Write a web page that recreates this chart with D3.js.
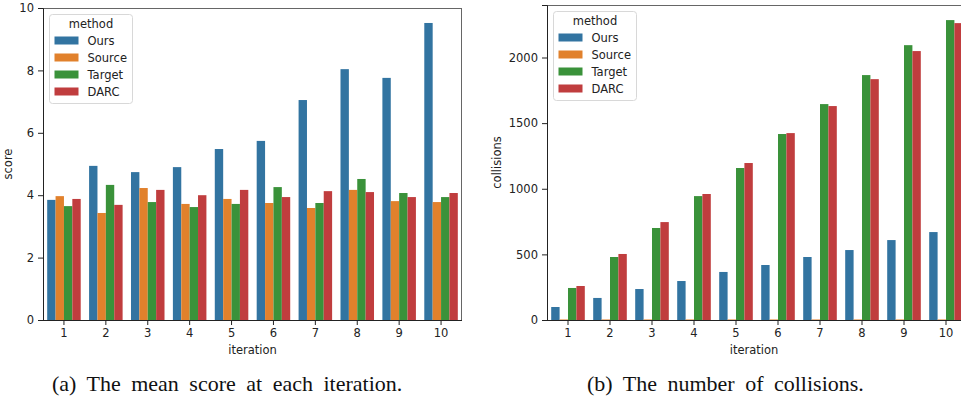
<!DOCTYPE html>
<html>
<head>
<meta charset="utf-8">
<script src="https://cdn.jsdelivr.net/npm/d3@7"></script>
<style>
  body { margin: 0; background: #fff; }
  text { font-family: "DejaVu Sans", sans-serif; }
</style>
</head>
<body>
<div id="chart"></div>
<script>
// data
var iterations = ["1", "2", "3", "4", "5", "6", "7", "8", "9", "10"];
var methods = ["Ours", "Source", "Target", "DARC"];
var colors = ["#3274a1", "#e1812c", "#3a923a", "#c03d3e"];

var scoreOurs   = [3.85, 4.94, 4.74, 4.90, 5.48, 5.74, 7.05, 8.04, 7.76, 9.52];
var scoreSource = [3.97, 3.43, 4.23, 3.72, 3.88, 3.75, 3.59, 4.17, 3.81, 3.78];
var scoreTarget = [3.65, 4.33, 3.78, 3.62, 3.72, 4.26, 3.75, 4.52, 4.07, 3.94];
var scoreDarc   = [3.88, 3.69, 4.17, 4.00, 4.17, 3.94, 4.13, 4.10, 3.94, 4.07];

var collOurs   = [99, 168, 236, 297, 366, 419, 480, 533, 609, 670];
var collSource = [4, 4, 4, 4, 4, 4, 4, 4, 4, 4];
var collTarget = [244, 480, 701, 944, 1158, 1417, 1645, 1866, 2094, 2285];
var collDarc   = [259, 503, 746, 960, 1196, 1424, 1630, 1835, 2049, 2262];

var scoreTicks = [0, 2, 4, 6, 8, 10];
var collTicks = [0, 500, 1000, 1500, 2000];

var svg = d3.select("#chart").append("svg")
  .attr("width", 961)
  .attr("height", 396);

function drawPanel(opts) {
  var series = opts.series;
  var g = svg.append("g");

  var x = d3.scaleBand()
    .domain(iterations)
    .range([opts.left, opts.left + opts.width])
    .paddingInner(0.2)
    .paddingOuter(0.1);
  // band scale of 4 bars inside each group
  var xGroup = d3.scaleBand()
    .domain(methods)
    .range([0, x.bandwidth()]);
  var y = d3.scaleLinear()
    .domain([0, opts.yMax])
    .range([opts.bottom, opts.top]);

  methods.forEach(function(m, mi) {
    g.append("g").selectAll("rect")
      .data(series[mi])
      .enter()
      .append("rect")
      .attr("x", (d, i) => x(iterations[i]) + xGroup(m))
      .attr("width", xGroup.bandwidth())
      .attr("y", d => y(d))
      .attr("height", d => y(0) - y(d))
      .attr("fill", colors[mi]);
  });

  // frame
  g.append("line").attr("x1", opts.left).attr("x2", opts.left + opts.width)
    .attr("y1", opts.top + 0.5).attr("y2", opts.top + 0.5)
    .attr("stroke", "#666").attr("stroke-width", 1);
  g.append("line").attr("x1", opts.left + opts.width - 0.5).attr("x2", opts.left + opts.width - 0.5)
    .attr("y1", opts.top).attr("y2", opts.bottom)
    .attr("stroke", "#666").attr("stroke-width", 1);

  var xAxis = g.append("g")
    .attr("transform", `translate(0, ${opts.bottom})`)
    .call(d3.axisBottom(x).tickSizeOuter(0).tickSize(5).tickPadding(4));
  xAxis.select(".domain").attr("stroke", "#222")
    .attr("d", `M${opts.left},0.5H${opts.left + opts.width}`);

  var yAxis = g.append("g")
    .attr("transform", `translate(${opts.left}, 0)`)
    .call(d3.axisLeft(y).tickValues(opts.ticks).tickFormat(d3.format("d"))
      .tickSizeOuter(0).tickSize(5).tickPadding(4));
  yAxis.select(".domain").attr("stroke", "#222");

  g.selectAll(".tick text").attr("font-size", 11.5).attr("fill", "#222")
    .style("font-family", "DejaVu Sans, sans-serif");
  g.selectAll(".tick line").attr("stroke", "#222");

  g.append("text")
    .attr("x", opts.left + opts.width / 2 + (opts.xLabelShift || 0))
    .attr("y", opts.bottom + 34)
    .attr("text-anchor", "middle")
    .attr("font-size", 11.5)
    .attr("fill", "#222")
    .text("iteration");

  g.append("text")
    .attr("transform", `translate(${opts.yLabelX}, ${(opts.top + opts.bottom) / 2}) rotate(-90)`)
    .attr("text-anchor", "middle")
    .attr("font-size", 11.5)
    .attr("fill", "#222")
    .text(opts.yLabel);

  // legend
  var lg = g.append("g").attr("transform", `translate(${opts.legendX}, ${opts.legendY})`);
  lg.append("rect")
    .attr("width", 83).attr("height", 89)
    .attr("rx", 3)
    .attr("fill", "white").attr("fill-opacity", 0.8)
    .attr("stroke", "#d8d8d8");
  lg.append("text")
    .attr("x", 41.5).attr("y", 13)
    .attr("text-anchor", "middle")
    .attr("font-size", 11.5).attr("fill", "#222")
    .text("method");
  methods.forEach(function(m, mi) {
    lg.append("rect")
      .attr("x", 5).attr("y", 22 + mi * 17)
      .attr("width", 24).attr("height", 8)
      .attr("fill", colors[mi]);
    lg.append("text")
      .attr("x", 38).attr("y", 30.5 + mi * 17)
      .attr("font-size", 11.5).attr("fill", "#222")
      .text(m);
  });
}

drawPanel({
  left: 43, width: 419, top: 8, bottom: 320,
  yMax: 10, ticks: scoreTicks,
  series: [scoreOurs, scoreSource, scoreTarget, scoreDarc],
  yLabel: "score", yLabelX: 12,
  legendX: 49.5, legendY: 14.5
});

drawPanel({
  left: 547, width: 420, top: 5, bottom: 320,
  yMax: 2400, ticks: collTicks,
  series: [collOurs, collSource, collTarget, collDarc],
  yLabel: "collisions", yLabelX: 501,
  legendX: 553.5, legendY: 11.5,
  xLabelShift: -3
});

svg.append("text")
  .attr("x", 52).attr("y", 391)
  .attr("font-size", 22)
  .attr("fill", "#111")
  .style("word-spacing", "5px")
  .style("font-family", "Liberation Serif, serif")
  .text("(a) The mean score at each iteration.");

svg.append("text")
  .attr("x", 587).attr("y", 391)
  .attr("font-size", 22)
  .attr("fill", "#111")
  .style("word-spacing", "5px")
  .style("font-family", "Liberation Serif, serif")
  .text("(b) The number of collisions.");
</script>
</body>
</html>
